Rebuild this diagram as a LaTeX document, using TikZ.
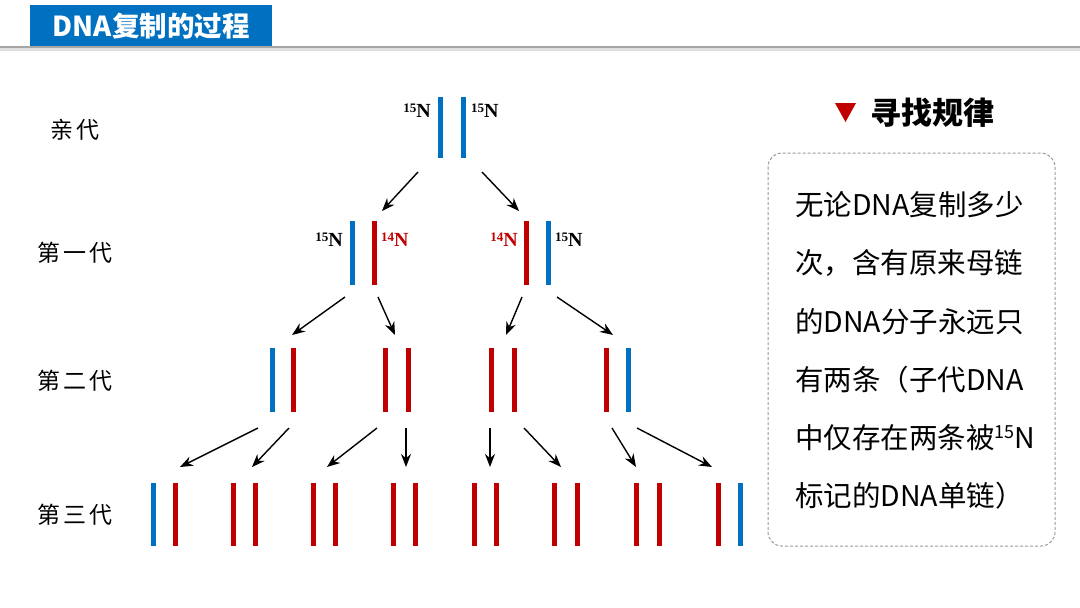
\documentclass[tikz,border=0pt]{standalone}
\usepackage{fontspec}
\setmainfont{Liberation Serif}
\newfontfamily\cjk{Noto Sans CJK SC}
\usetikzlibrary{arrows.meta}
\definecolor{dnablue}{HTML}{0070C0}
\definecolor{dnared}{HTML}{C00000}
\definecolor{hdrblue}{HTML}{0070C0}
\newcommand{\isotope}[1]{\raisebox{0.55ex}{\fontsize{13}{13}\selectfont #1}N}
\newcommand{\smallsup}[1]{\raisebox{0.7ex}{\fontsize{18}{18}\selectfont #1}}
\tikzset{
  strand/.style={draw=none,rectangle,minimum width=5pt,inner sep=0pt,outer sep=0pt},
  bbar/.style={strand,fill=dnablue},
  rbar/.style={strand,fill=dnared},
  arr/.style={-{Stealth[length=13pt,width=10pt]},line width=1.4pt,black},
  iso/.style={font=\bfseries\fontsize{20}{20}\selectfont,inner sep=0pt},
  genlabel/.style={font=\cjk\fontsize{23}{23}\selectfont,inner sep=0pt},
  ruletext/.style={font=\cjk\fontsize{28.5}{28.5}\selectfont,inner sep=0pt,anchor=west}
}
\begin{document}
\begin{tikzpicture}[x=1pt,y=-1pt]
\useasboundingbox (0,0) rectangle (1080,608);
% header
\fill[gray!25] (0,48) rectangle (1080,51);
\draw[gray!70,line width=1.5pt] (0,47) -- (1080,47);
\node[fill=hdrblue,minimum width=242pt,minimum height=41pt,inner sep=0pt,anchor=north west,text=white,font=\cjk\bfseries\fontsize{27.5}{27.5}\selectfont] (title) at (30,5) {DNA复制的过程};
% generation labels
\node[genlabel] (g0) at (75,130) {亲\hspace{4pt}代};
\node[genlabel] (g1) at (75,253) {第\hspace{3pt}一\hspace{3pt}代};
\node[genlabel] (g2) at (75,381) {第\hspace{3pt}二\hspace{3pt}代};
\node[genlabel] (g3) at (75,515) {第\hspace{3pt}三\hspace{3pt}代};
% parent
\node[bbar,minimum height=61pt] (p1) at (440,127.5) {};
\node[bbar,minimum height=61pt] (p2) at (463,127.5) {};
\node[iso,anchor=east] (lp1) at (431,111) {\isotope{15}};
\node[iso,anchor=west] (lp2) at (471,111) {\isotope{15}};
% generation 1
\foreach \n/\x/\s in {a1/352/bbar,a2/374/rbar,a3/526/rbar,a4/548/bbar}
  \node[\s,minimum height=64pt] (\n) at (\x,253) {};
\node[iso,anchor=east] (la1) at (343,240) {\isotope{15}};
\node[iso,anchor=west,text=dnared] (la2) at (381,240) {\isotope{14}};
\node[iso,anchor=east,text=dnared] (la3) at (518,240) {\isotope{14}};
\node[iso,anchor=west] (la4) at (555,240) {\isotope{15}};
% generation 2
\foreach \n/\x/\s in {b1/272/bbar,b2/293/rbar,b3/385/rbar,b4/408/rbar,b5/491/rbar,b6/514/rbar,b7/606/rbar,b8/628/bbar}
  \node[\s,minimum height=64pt] (\n) at (\x,380) {};
% generation 3
\foreach \n/\x/\s in {c1/153/bbar,c2/175/rbar,c3/233/rbar,c4/255/rbar,c5/313/rbar,c6/335/rbar,c7/393/rbar,c8/415/rbar,c9/474/rbar,c10/496/rbar,c11/554/rbar,c12/577/rbar,c13/636/rbar,c14/659/rbar,c15/718/rbar,c16/740/bbar}
  \node[\s,minimum height=63pt] (\n) at (\x,514.5) {};
% arrows
\coordinate (s01) at (418,172); \coordinate (e01) at (382,211);
\coordinate (s02) at (482,172); \coordinate (e02) at (519,211);
\draw[arr] (s01) -- (e01);
\draw[arr] (s02) -- (e02);
\foreach \i/\sx/\ex in {1/345/292,2/378/395,3/522/506,4/557/613}{
  \coordinate (s1\i) at (\sx,297); \coordinate (e1\i) at (\ex,335);
  \draw[arr] (s1\i) -- (e1\i);
}
\foreach \i/\sx/\ex in {1/258/180,2/289/252,3/377/327,4/406/406,5/490/490,6/524/561,7/612/636,8/637/712}{
  \coordinate (s2\i) at (\sx,428); \coordinate (e2\i) at (\ex,467);
  \draw[arr] (s2\i) -- (e2\i);
}
% right panel
\fill[dnared] (835,103) -- (856,103) -- (845.5,122) -- cycle;
\node[font=\cjk\bfseries\fontsize{31}{31}\selectfont,inner sep=0pt] (rule) at (932,113) {寻找规律};
\draw[gray!80,line width=1pt,dash pattern=on 3pt off 2pt,rounded corners=14pt] (768,153) rectangle (1055,546);
\node[ruletext] (t1) at (795,205) {无论DNA复制多少};
\node[ruletext] (t2) at (795,263) {次，含有原来母链};
\node[ruletext] (t3) at (795,322) {的DNA分子永远只};
\node[ruletext] (t4) at (795,380) {有两条（子代DNA};
\node[ruletext] (t5) at (795,438) {中仅存在两条被\smallsup{15}N};
\node[ruletext] (t6) at (795,496) {标记的DNA单链）};
\end{tikzpicture}
\end{document}
